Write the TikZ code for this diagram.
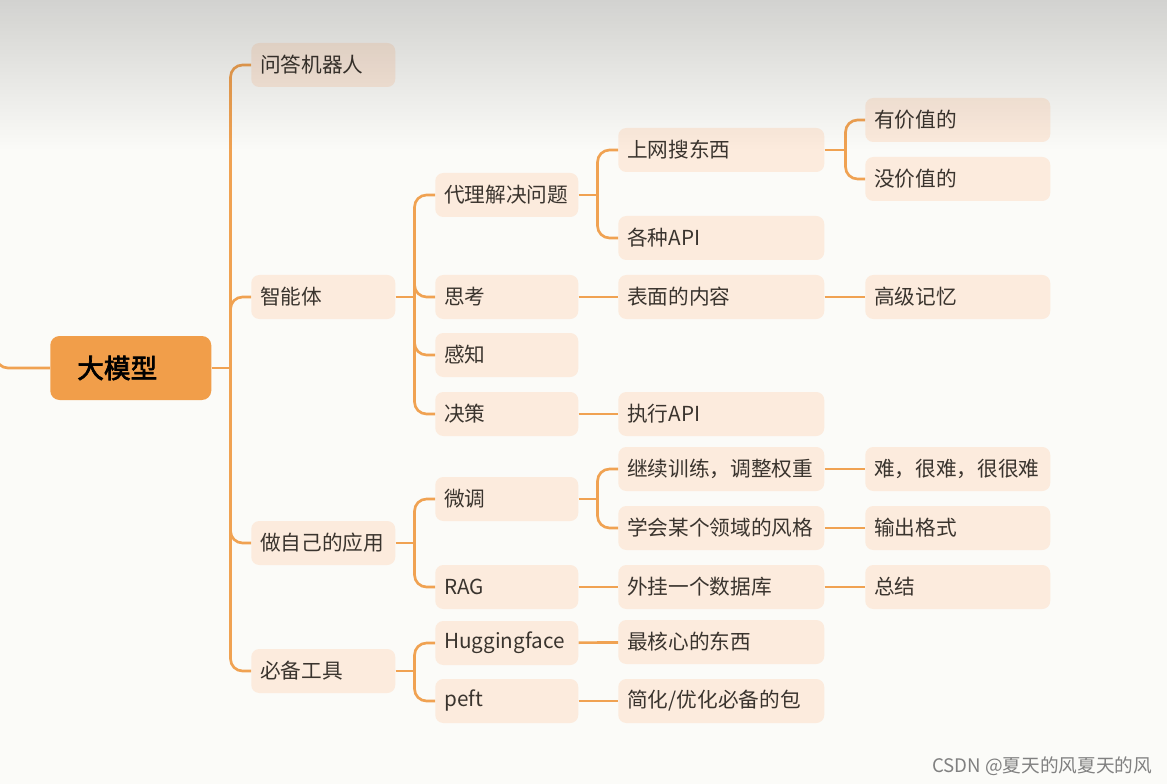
\documentclass[tikz,border=0pt]{standalone}
\usepackage{fontspec}
\usepackage{tikz}
\usetikzlibrary{fadings}
\newfontfamily\cjk[AutoFakeBold=2.5]{Noto Sans CJK SC}
\definecolor{bgpaper}{RGB}{251,251,248}
\definecolor{linkorange}{RGB}{240,162,82}
\definecolor{rootorange}{RGB}{241,158,74}
\definecolor{boxpeach}{RGB}{252,235,221}
\definecolor{inktext}{RGB}{58,52,46}
\tikzset{
  topic/.style={fill=boxpeach, rounded corners=6pt, anchor=west, minimum height=33pt,
    inner xsep=6.75pt, inner ysep=0pt, align=left, text=inktext,
    font=\cjk\fontsize{15.5}{18}\selectfont},
  lvone/.style={topic, text width=94.5pt},
  lvtwo/.style={topic, text width=93.75pt},
  lvthree/.style={topic, text width=141pt},
  lvfour/.style={topic, text width=125.25pt},
  link/.style={draw=linkorange, line width=2pt, rounded corners=9pt}
}
\begin{document}
\begin{tikzpicture}[x=0.75pt,y=0.75pt,yscale=-1,xscale=1]
\useasboundingbox (0,0) rectangle (1167,784);
\clip (0,0) rectangle (1167,784);
\fill[bgpaper] (0,0) rectangle (1167,784);

% root
\node[fill=rootorange, rounded corners=7pt, anchor=west, minimum height=48pt,
  inner xsep=20.25pt, inner ysep=0pt, text width=80.25pt, align=left,
  font=\cjk\bfseries\fontsize{20}{24}\selectfont] (root) at (50,368) {大模型};
\coordinate (offstage) at (-4,330);

% level 1
\node[lvone] (qa) at (251,65) {问答机器人};
\node[lvone] (agent) at (251,297) {智能体};
\node[lvone] (app) at (251,543) {做自己的应用};
\node[lvone] (tools) at (251,671) {必备工具};

% level 2
\node[lvtwo] (proxy) at (435,195) {代理解决问题};
\node[lvtwo] (think) at (435,297) {思考};
\node[lvtwo] (perceive) at (435,355) {感知};
\node[lvtwo] (decide) at (435,414) {决策};
\node[lvtwo] (finetune) at (435,499) {微调};
\node[lvtwo] (rag) at (435,587) {RAG};
\node[lvtwo] (hf) at (435,643) {Huggingface};
\node[lvtwo] (peft) at (435,701) {peft};

% level 3
\node[lvthree] (search) at (618,150) {上网搜东西};
\node[lvthree] (apis) at (618,238) {各种API};
\node[lvthree] (surface) at (618,297) {表面的内容};
\node[lvthree] (execapi) at (618,414) {执行API};
\node[lvthree] (train) at (618,469) {继续训练，调整权重};
\node[lvthree] (style) at (618,528) {学会某个领域的风格};
\node[lvthree] (extdb) at (618,587) {外挂一个数据库};
\node[lvthree] (core) at (618,642) {最核心的东西};
\node[lvthree] (simplify) at (618,701) {简化/优化必备的包};

% level 4
\node[lvfour] (valuable) at (865,120) {有价值的};
\node[lvfour] (worthless) at (865,179) {没价值的};
\node[lvfour] (memory) at (865,297) {高级记忆};
\node[lvfour] (hard) at (865,469) {难，很难，很很难};
\node[lvfour] (format) at (865,528) {输出格式};
\node[lvfour] (summary) at (865,587) {总结};

% connectors
\draw[link] (offstage) |- (root.west);
\draw[link] (root.east) -- ++(19,0);
\foreach \c in {qa,agent,app,tools} \draw[link] (root.east) ++(19,0) |- (\c.west);
\draw[link] (agent.east) -- ++(19,0);
\foreach \c in {proxy,think,perceive,decide} \draw[link] (agent.east) ++(19,0) |- (\c.west);
\draw[link] (app.east) -- ++(19,0);
\foreach \c in {finetune,rag} \draw[link] (app.east) ++(19,0) |- (\c.west);
\draw[link] (tools.east) -- ++(19,0);
\foreach \c in {hf,peft} \draw[link] (tools.east) ++(19,0) |- (\c.west);
\draw[link] (proxy.east) -- ++(19,0);
\foreach \c in {search,apis} \draw[link] (proxy.east) ++(19,0) |- (\c.west);
\draw[link] (finetune.east) -- ++(19,0);
\foreach \c in {train,style} \draw[link] (finetune.east) ++(19,0) |- (\c.west);
\draw[link] (think) -- (surface);
\draw[link] (decide) -- (execapi);
\draw[link] (rag) -- (extdb);
\draw[link] (hf) -- (core);
\draw[link] (peft) -- (simplify);
\draw[link] (search.east) -- ++(21,0);
\foreach \c in {valuable,worthless} \draw[link] (search.east) ++(21,0) |- (\c.west);
\draw[link] (surface) -- (memory);
\draw[link] (train) -- (hard);
\draw[link] (style) -- (format);
\draw[link] (extdb) -- (summary);

% watermark
\node[anchor=east, text=black!50, font=\cjk\fontsize{14}{16}\selectfont] (mark) at (1157,766) {CSDN @夏天的风夏天的风};

% top shade
\fill[black, opacity=0.16, path fading=south] (0,0) rectangle (1167,150);
\end{tikzpicture}
\end{document}
